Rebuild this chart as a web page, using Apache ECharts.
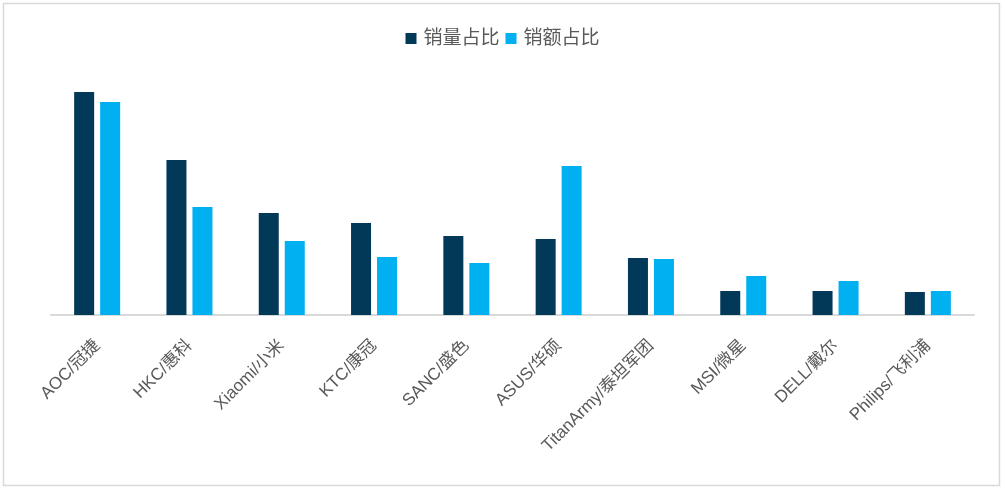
<!DOCTYPE html>
<html>
<head>
<meta charset="utf-8">
<script src="https://cdn.jsdelivr.net/npm/echarts@6/dist/echarts.min.js"></script>
<style>
html,body{margin:0;padding:0;background:#fff;}
#main{width:1005px;height:489px;}
</style>
</head>
<body>
<div id="main"></div>
<script>
// brands, share of units vs share of revenue (%)
var brands = ['AOC/冠捷', 'HKC/惠科', 'Xiaomi/小米', 'KTC/康冠', 'SANC/盛色', 'ASUS/华硕', 'TitanArmy/泰坦军团', 'MSI/微星', 'DELL/戴尔', 'Philips/飞利浦'];
var volumeShare = [22.3, 15.5, 10.2, 9.2, 7.9, 7.6, 5.7, 2.4, 2.4, 2.3];
var amountShare = [21.3, 10.8, 7.4, 5.8, 5.2, 14.9, 5.6, 3.9, 3.4, 2.4];
var seriesNames = ['销量占比', '销额占比'];

var fontFam = '"Liberation Sans", "Noto Sans CJK SC", sans-serif';

var chart = echarts.init(document.getElementById('main'));
var option = {
	backgroundColor: '#fff',
	animation: false,
	color: ['#023858', '#00b0f0'],
	legend: {
		data: seriesNames,
		top: 24,
		left: 'center',
		icon: 'rect',
		itemWidth: 11,
		itemHeight: 11,
		itemGap: 6,
		textStyle: {fontSize: 19, color: '#595959', fontFamily: fontFam, padding: [0, 0, 0, 2]}
	},
	graphic: [{
		type: 'rect',
		shape: {x: 3.5, y: 3.5, width: 996, height: 482},
		style: {fill: 'none', stroke: '#d9d9d9', lineWidth: 1.5},
		silent: true
	}],
	grid: {left: 51, right: 31, top: 65, bottom: 174},
	xAxis: {
		type: 'category',
		data: brands,
		axisLine: {lineStyle: {color: '#d9d9d9', width: 2}},
		axisTick: {show: false},
		axisLabel: {
			rotate: 45,
			interval: 0,
			margin: 28,
			fontSize: 17,
			color: '#595959',
			fontFamily: fontFam
		}
	},
	yAxis: {
		type: 'value',
		min: 0,
		max: 25,
		show: false,
		splitLine: {show: false}
	},
	series: [
		{
			name: seriesNames[0],
			type: 'bar',
			data: volumeShare,
			barWidth: 20,
			barGap: '30%'
		},
		{
			name: seriesNames[1],
			type: 'bar',
			data: amountShare,
			barWidth: 20,
			barGap: '30%'
		}
	]
};
chart.setOption(option);
</script>
</body>
</html>
